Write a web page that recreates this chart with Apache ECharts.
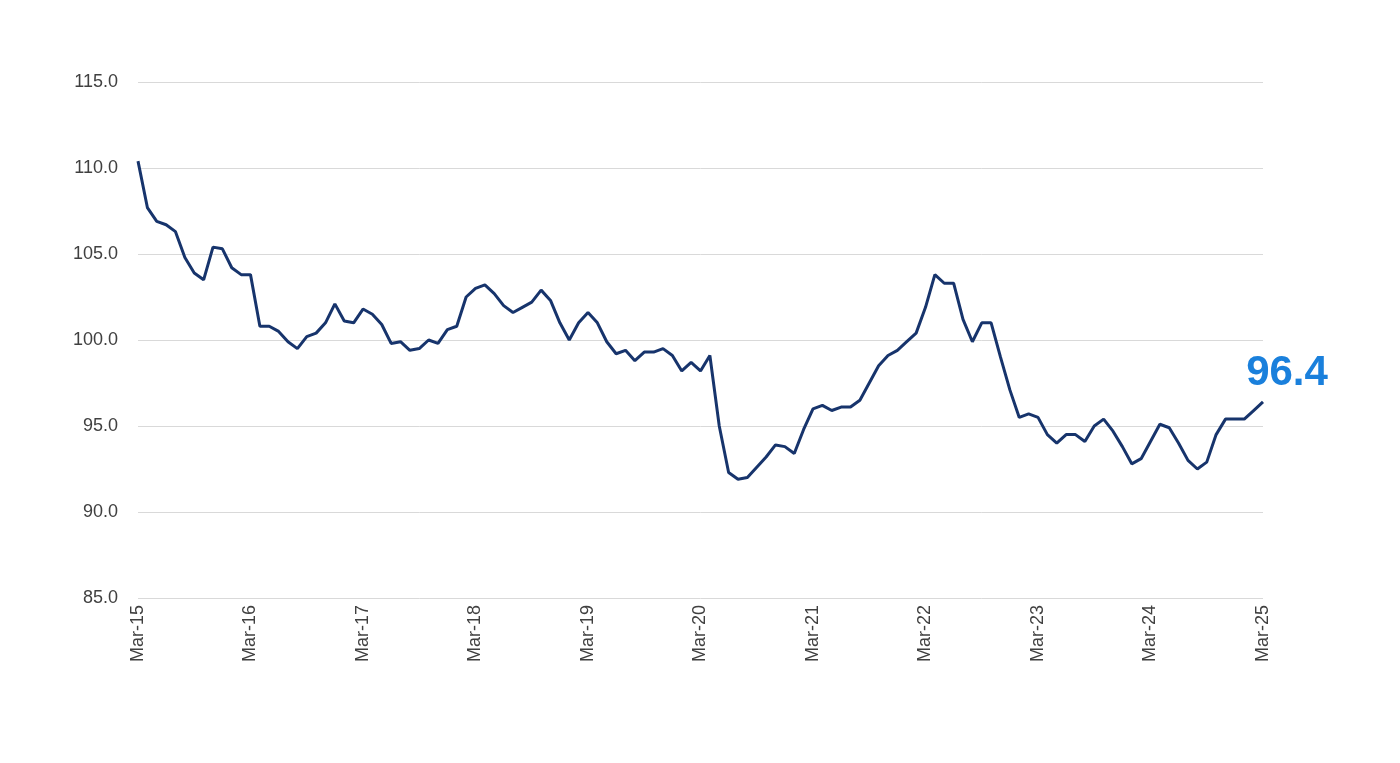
<!DOCTYPE html>
<html>
<head>
<meta charset="utf-8">
<script src="https://cdn.jsdelivr.net/npm/echarts@6/dist/echarts.min.js"></script>
<style>
html,body{margin:0;padding:0;background:#fff;}
#chart{width:1400px;height:763px;}
</style>
</head>
<body>
<div id="chart"></div>
<script>
// Month names and years (Mar-15 .. Mar-25, monthly)
const monthNames = ["Jan","Feb","Mar","Apr","May","Jun","Jul","Aug","Sep","Oct","Nov","Dec"];
const startYear = 15, startMonth = 2, monthCount = 121;
const categories = [];
for (let k = 0; k < monthCount; k++) {
  const m = (startMonth + k) % 12;
  const y = startYear + Math.floor((startMonth + k) / 12);
  categories.push(monthNames[m] + "-" + String(y).padStart(2, "0"));
}

const values = [
  110.4, 107.7, 106.9, 106.7, 106.3, 104.8, 103.9, 103.5, 105.4, 105.3, 104.2, 103.8,
  103.8, 100.8, 100.8, 100.5, 99.9, 99.5, 100.2, 100.4, 101.0, 102.1, 101.1, 101.0,
  101.8, 101.5, 100.9, 99.8, 99.9, 99.4, 99.5, 100.0, 99.8, 100.6, 100.8, 102.5,
  103.0, 103.2, 102.7, 102.0, 101.6, 101.9, 102.2, 102.9, 102.3, 101.0, 100.0, 101.0,
  101.6, 101.0, 99.9, 99.2, 99.4, 98.8, 99.3, 99.3, 99.5, 99.1, 98.2, 98.7,
  98.2, 99.1, 95.0, 92.3, 91.9, 92.0, 92.6, 93.2, 93.9, 93.8, 93.4, 94.8,
  96.0, 96.2, 95.9, 96.1, 96.1, 96.5, 97.5, 98.5, 99.1, 99.4, 99.9, 100.4,
  101.9, 103.8, 103.3, 103.3, 101.2, 99.9, 101.0, 101.0, 99.0, 97.1, 95.5, 95.7,
  95.5, 94.5, 94.0, 94.5, 94.5, 94.1, 95.0, 95.4, 94.7, 93.8, 92.8, 93.1,
  94.1, 95.1, 94.9, 94.0, 93.0, 92.5, 92.9, 94.5, 95.4, 95.4, 95.4, 95.9,
  96.4
];

const yTicks = { min: 85, max: 115, interval: 5 };
const lastLabel = "96.4";

const chart = echarts.init(document.getElementById('chart'), null, { renderer: 'canvas' });
chart.setOption({
  animation: false,
  backgroundColor: '#ffffff',
  grid: { left: 138, right: 137, top: 82, bottom: 165, containLabel: false },
  xAxis: {
    type: 'category',
    data: categories,
    boundaryGap: false,
    axisLine: { show: false },
    axisTick: { show: false },
    splitLine: { show: false },
    axisLabel: {
      interval: 11,
      rotate: 90,
      margin: 7,
      color: '#404040',
      fontSize: 18,
      fontFamily: 'Liberation Sans, Arial, sans-serif'
    }
  },
  yAxis: {
    type: 'value',
    min: yTicks.min,
    max: yTicks.max,
    interval: yTicks.interval,
    axisLine: { show: false },
    axisTick: { show: false },
    splitLine: { show: true, lineStyle: { color: '#d9d9d9', width: 1 } },
    axisLabel: {
      margin: 20,
      color: '#404040',
      fontSize: 18,
      fontFamily: 'Liberation Sans, Arial, sans-serif',
      formatter: v => v.toFixed(1)
    }
  },
  series: [{
    type: 'line',
    data: values,
    showSymbol: false,
    symbol: 'none',
    lineStyle: { color: '#17346c', width: 3 },
    itemStyle: { color: '#17346c' },
    markPoint: {
      symbol: 'circle',
      symbolSize: 0,
      silent: true,
      data: [{
        coord: [categories.length - 1, values[values.length - 1]],
        label: {
          show: true,
          position: 'inside',
          offset: [24, -28],
          formatter: lastLabel,
          color: '#1a80dc',
          fontSize: 42,
          fontWeight: 'bold',
          fontFamily: 'Liberation Sans, Arial, sans-serif'
        }
      }]
    }
  }]
});
</script>
</body>
</html>
